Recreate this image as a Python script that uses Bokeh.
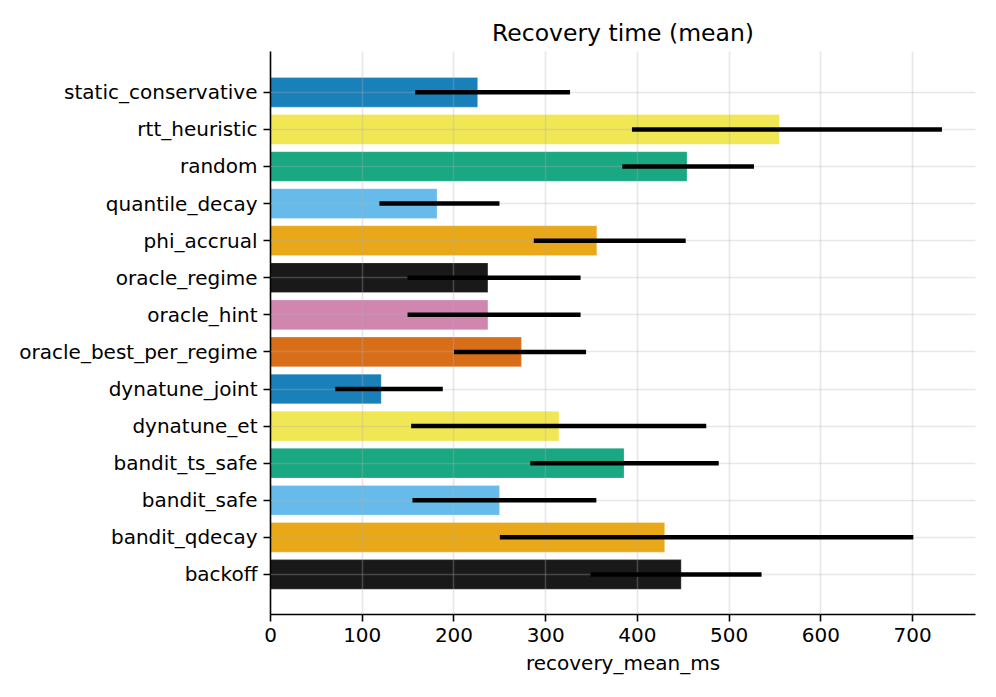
from bokeh.plotting import figure
from bokeh.models import Range1d, FixedTicker, ColumnDataSource
from bokeh.embed import file_html
from bokeh.resources import INLINE

strategies = ["backoff", "bandit_qdecay", "bandit_safe", "bandit_ts_safe",
              "dynatune_et", "dynatune_joint", "oracle_best_per_regime",
              "oracle_hint", "oracle_regime", "phi_accrual", "quantile_decay",
              "random", "rtt_heuristic", "static_conservative"]
mean_ms = [447.7, 429.7, 249.6, 385.4, 314.4, 120.7, 273.5,
           237.0, 237.0, 355.7, 181.5, 454.0, 554.7, 225.8]
ci_low = [348.9, 250.0, 154.7, 283.2, 153.3, 70.6, 200.0,
          149.4, 149.4, 287.0, 118.7, 383.5, 394.0, 157.7]
ci_high = [535.3, 700.7, 355.2, 488.6, 475.0, 187.8, 344.0,
           338.0, 338.0, 452.6, 249.6, 527.0, 731.9, 326.5]
palette = ["#000000", "#E69F00", "#56B4E9", "#009E73",
           "#F0E442", "#0072B2", "#D55E00", "#CC79A7"]
x_ticks = [0, 100, 200, 300, 400, 500, 600, 700]

ypos = list(range(len(strategies)))
colors = [palette[i % len(palette)] for i in ypos]

src = ColumnDataSource(dict(y=ypos, name=strategies, mean=mean_ms,
                            lo=ci_low, hi=ci_high, color=colors))

FONT = "DejaVu Sans"
p = figure(width=980, height=681, output_backend="svg", toolbar_location=None,
           x_range=Range1d(0, max(ci_high) * 1.05),
           y_range=Range1d(-1.08, len(strategies) - 1 + 1.1),
           min_border_left=270, min_border_right=5,
           min_border_top=51, min_border_bottom=67)

p.hbar(y="y", left=0, right="mean", height=0.8, source=src,
       fill_color="color", fill_alpha=0.9,
       line_color="white", line_alpha=0.4, line_width=0.6)
p.segment(x0="lo", x1="hi", y0="y", y1="y", source=src,
          line_color="black", line_width=4.5, level="annotation")

p.title.text = "Recovery time (mean)"
p.title.align = "center"
p.title.text_font = FONT
p.title.text_font_size = "23.5px"
p.title.text_font_style = "normal"
p.title.text_color = "black"

p.outline_line_color = None

for g in (p.xgrid, p.ygrid):
    g.grid_line_color = "#b0b0b0"
    g.grid_line_alpha = 0.3
    g.grid_line_width = 1.6
    g.level = "guide"

p.xaxis.ticker = FixedTicker(ticks=x_ticks)
p.yaxis.ticker = FixedTicker(ticks=ypos)
p.yaxis.major_label_overrides = {i: s for i, s in zip(ypos, strategies)}
p.ygrid.ticker = FixedTicker(ticks=ypos)
p.xgrid.ticker = FixedTicker(ticks=x_ticks)

p.xaxis.axis_label = "recovery_mean_ms"
for ax in (p.xaxis, p.yaxis):
    ax.axis_line_width = 1.6
    ax.axis_line_color = "black"
    ax.major_tick_line_width = 1.6
    ax.major_tick_line_color = "black"
    ax.major_tick_out = 7
    ax.major_tick_in = 0
    ax.minor_tick_line_color = None
    ax.major_label_text_font = FONT
    ax.major_label_text_font_size = "20px"
    ax.major_label_text_color = "black"
    ax.axis_label_text_font = FONT
    ax.axis_label_text_font_size = "20px"
    ax.axis_label_text_font_style = "normal"
    ax.axis_label_text_color = "black"
    ax.major_label_standoff = 6
p.xaxis.axis_label_standoff = 6

open("out.html", "w").write(file_html(p, INLINE))
